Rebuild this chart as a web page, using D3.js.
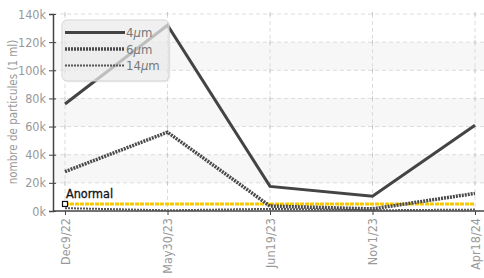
<!DOCTYPE html>
<html>
<head>
<meta charset="utf-8">
<script src="https://cdn.jsdelivr.net/npm/d3@7"></script>
<style>
  body { margin: 0; background: #fff; }
  svg text { font-family: "Liberation Sans Narrow", "DejaVu Sans Condensed", "Roboto", sans-serif; }
</style>
</head>
<body>
<div id="chart"></div>
<script>
// data
var dates = ["Dec9/22", "May30/23", "Jun19/23", "Nov1/23", "Apr18/24"];
var um4 = [76000, 132000, 17500, 10500, 61000];
var um6 = [28000, 56000, 3500, 1500, 12500];
var um14 = [2000, 500, 1500, 500, 1000];
var seriesNames = ["4", "6", "14"];
var yTicks = [0, 20000, 40000, 60000, 80000, 100000, 120000, 140000];
var anormal = 5000;

var width = 484, height = 278;
var svg = d3.select('#chart').append('svg')
    .attr('width', width)
    .attr('height', height);

var x = d3.scalePoint().domain(dates).range([65, 475]);
var y = d3.scaleLinear().domain([0, 140000]).range([211, 14]);

// alternating bands
for (var i = 0; i < yTicks.length - 1; i++) {
    if (i % 2 == 1) {
        svg.append('rect')
            .attr('x', 53).attr('width', width - 53)
            .attr('y', y(yTicks[i + 1]))
            .attr('height', y(yTicks[i]) - y(yTicks[i + 1]))
            .attr('fill', '#f7f7f7');
    }
}

// grid
svg.selectAll('line.hgrid').data(yTicks.slice(1)).enter().append('line')
    .attr('class', 'hgrid')
    .attr('x1', 53).attr('x2', width)
    .attr('y1', function (d) { return y(d); })
    .attr('y2', function (d) { return y(d); })
    .attr('stroke', '#dcdcdc').attr('stroke-dasharray', '4,3');
svg.selectAll('line.vgrid').data(dates).enter().append('line')
    .attr('class', 'vgrid')
    .attr('x1', function (d) { return x(d); })
    .attr('x2', function (d) { return x(d); })
    .attr('y1', y(140000)).attr('y2', y(0))
    .attr('stroke', '#dcdcdc').attr('stroke-dasharray', '4,3');
// small crosses where grid lines meet
dates.forEach(function (d) {
    yTicks.slice(1).forEach(function (t) {
        svg.append('line')
            .attr('x1', x(d)).attr('x2', x(d))
            .attr('y1', y(t) - 2).attr('y2', y(t) + 2)
            .attr('stroke', '#c8c8c8');
    });
});

// axes
var yAxis = svg.append('g')
    .attr('transform', 'translate(53,0)')
    .call(d3.axisLeft(y).tickValues(yTicks)
        .tickFormat(function (d) { return (d / 1000) + 'k'; })
        .tickSize(4).tickPadding(3));
yAxis.select('.domain').attr('stroke', '#444').attr('stroke-width', 1.5);
yAxis.selectAll('.tick line').attr('stroke', '#444').attr('x2', 3).attr('x1', -4);
yAxis.selectAll('.tick text').attr('fill', '#999').style('font-size', '12.5px');

var xAxis = svg.append('g')
    .attr('transform', 'translate(0,211)')
    .call(d3.axisBottom(x).tickSize(4).tickPadding(6));
xAxis.select('.domain').attr('d', 'M53,0H' + width).attr('stroke', '#444').attr('stroke-width', 1.5);
xAxis.selectAll('.tick line').attr('stroke', '#444');
xAxis.selectAll('.tick text')
    .attr('fill', '#999').style('font-size', '12.5px')
    .attr('transform', 'rotate(-90)')
    .attr('text-anchor', 'end')
    .attr('x', -7).attr('y', 0).attr('dy', '0.35em');

svg.append('text')
    .attr('transform', 'translate(17,112) rotate(-90)')
    .attr('text-anchor', 'middle')
    .attr('fill', '#999').style('font-size', '11.5px')
    .text('nombre de particules (1 ml)');

// threshold
svg.append('line')
    .attr('x1', x(dates[0])).attr('x2', x(dates[dates.length - 1]))
    .attr('y1', y(anormal)).attr('y2', y(anormal))
    .attr('stroke', '#f7c800').attr('stroke-width', 3)
    .attr('stroke-dasharray', '4,1');

// series
var styles = [
    { w: 3, dash: null, color: '#444' },
    { w: 3.5, dash: '2,1', color: '#4a4a4a' },
    { w: 2, dash: '2,1', color: '#555' }
];
var line = d3.line()
    .x(function (d, i) { return x(dates[i]); })
    .y(function (d) { return y(d); });
[um4, um6, um14].forEach(function (s, k) {
    svg.append('path')
        .datum(s)
        .attr('d', line)
        .attr('fill', 'none')
        .attr('stroke', styles[k].color)
        .attr('stroke-width', styles[k].w)
        .attr('stroke-dasharray', styles[k].dash);
});

// anormal marker
svg.append('rect')
    .attr('x', x(dates[0]) - 2.5).attr('y', y(anormal) - 2.5)
    .attr('width', 5).attr('height', 5)
    .attr('fill', '#fff').attr('stroke', '#111').attr('stroke-width', 1.2);
svg.append('text')
    .attr('x', x(dates[0]) + 1).attr('y', y(anormal) - 6)
    .attr('fill', '#111').style('font-size', '12.5px')
    .attr('stroke', '#111').attr('stroke-width', 0.3)
    .text('Anormal');

// legend
var lg = svg.append('g').attr('transform', 'translate(62,20)');
lg.append('rect')
    .attr('x', 1.5).attr('y', 1.5).attr('width', 107).attr('height', 61).attr('rx', 5)
    .attr('fill', '#000').attr('opacity', 0.05);
lg.append('rect')
    .attr('width', 107).attr('height', 61).attr('rx', 5)
    .attr('fill', '#eeeeee').attr('fill-opacity', 0.72)
    .attr('stroke', '#d4d4d4');
seriesNames.forEach(function (n, k) {
    var ly = 12.5 + k * 16.5;
    lg.append('line')
        .attr('x1', 3).attr('x2', 63).attr('y1', ly).attr('y2', ly)
        .attr('stroke', styles[k].color)
        .attr('stroke-width', styles[k].w)
        .attr('stroke-dasharray', styles[k].dash);
    var t = lg.append('text')
        .attr('x', 64).attr('y', ly).attr('dy', '0.35em')
        .attr('fill', '#777').style('font-size', '13px');
    t.append('tspan').text(n);
    t.append('tspan').style('font-style', 'italic').text('\u03bc');
    t.append('tspan').text('m');
});
</script>
</body>
</html>
